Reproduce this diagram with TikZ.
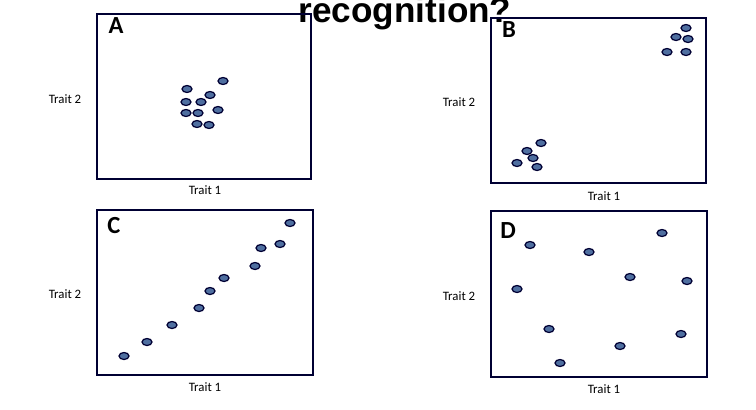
\documentclass[tikz,border=0pt]{standalone}
\usepackage{fontspec}
\setmainfont{Carlito}
\newfontfamily\titlefont{Liberation Sans}
\tikzset{
  panel/.style={draw=black!80!blue, line width=1.4pt},
  dot/.style={ellipse, draw=black!80!blue, line width=0.7pt, fill={rgb,255:red,79;green,111;blue,160}, minimum width=10*0.02cm, minimum height=7*0.02cm, inner sep=0pt},
  axlab/.style={font=\fontsize{7.3}{8}\selectfont},
  letter/.style={font=\bfseries\fontsize{14}{14}\selectfont}
}
\usetikzlibrary{shapes.geometric}
\begin{document}
\begin{tikzpicture}[x=0.02cm,y=-0.02cm]
\useasboundingbox (0,0) rectangle (756,409);
\begin{scope}
\clip (0,0) rectangle (756,409);
\node[font=\titlefont\bfseries\fontsize{20}{20}\selectfont, anchor=base] (title) at (405,22) {recognition?};
\end{scope}
% A
\draw[panel] (97,14) rectangle (311,179);
\node[letter] (la) at (116,26) {A};
\node[axlab] (a2) at (65,99) {Trait 2};
\node[axlab] (a1) at (205,190) {Trait 1};
\foreach \p [count=\i] in {(223,81),(187,89),(210,95),(186,102),(201,102),(186,113),(198,113),(218,110),(197,124),(209,125)}
  \node[dot] (da\i) at \p {};
% B
\draw[panel] (491,18) rectangle (706,183);
\node[letter] (lb) at (509,30) {B};
\node[axlab] (b2) at (459,102) {Trait 2};
\node[axlab] (b1) at (604,196) {Trait 1};
\foreach \p [count=\i] in {(686,28),(676,37),(688,39),(667,52),(686,52),(541,143),(527,151),(533,158),(517,163),(537,167)}
  \node[dot] (db\i) at \p {};
% C
\draw[panel] (97,210) rectangle (313,375);
\node[letter] (lc) at (114,226) {C};
\node[axlab] (c2) at (65,294) {Trait 2};
\node[axlab] (c1) at (205,387) {Trait 1};
\foreach \p [count=\i] in {(290,223),(261,248),(280,244),(255,266),(224,278),(210,291),(199,308),(172,325),(147,342),(124,356)}
  \node[dot] (dc\i) at \p {};
% D
\draw[panel] (491,211) rectangle (707,377);
\node[letter] (ld) at (508,231) {D};
\node[axlab] (d2) at (459,296) {Trait 2};
\node[axlab] (d1) at (604,389) {Trait 1};
\foreach \p [count=\i] in {(530,245),(662,233),(589,252),(630,277),(687,281),(517,289),(549,329),(681,334),(620,346),(560,363)}
  \node[dot] (dd\i) at \p {};
\end{tikzpicture}
\end{document}
